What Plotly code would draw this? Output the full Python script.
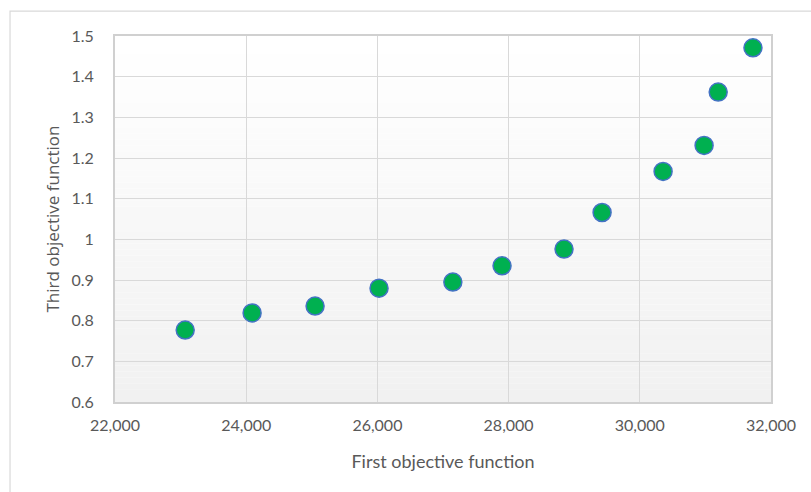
import plotly.graph_objects as go

# Pareto front points: first objective vs third objective
first_objective = [23070, 24090, 25050, 26025, 27150, 27900, 28845, 29425, 30355, 30980, 31195, 31725]
third_objective = [0.777, 0.819, 0.836, 0.880, 0.895, 0.935, 0.976, 1.066, 1.167, 1.231, 1.362, 1.471]

x_ticks = [22000, 24000, 26000, 28000, 30000, 32000]
x_tick_labels = ["22,000", "24,000", "26,000", "28,000", "30,000", "32,000"]
y_ticks = [0.6, 0.7, 0.8, 0.9, 1.0, 1.1, 1.2, 1.3, 1.4, 1.5]
y_tick_labels = ["0.6", "0.7", "0.8", "0.9", "1", "1.1", "1.2", "1.3", "1.4", "1.5"]

tick_font = dict(family="Lato, Carlito, Calibri, sans-serif", size=16, color="#595959")

fig = go.Figure()
fig.add_trace(go.Scatter(
    x=first_objective,
    y=third_objective,
    mode="markers",
    marker=dict(size=18, color="#00B050", line=dict(color="#4472C4", width=1.5)),
    hoverinfo="x+y",
    showlegend=False,
))

# Vertical gradient for the plot area: white at the top to light grey at the bottom
shapes = []
steps = 60
for i in range(steps):
    t = i / (steps - 1)
    v = round(241 + (255 - 241) * t)
    shapes.append(dict(
        type="rect", xref="x domain", yref="y domain",
        x0=0, x1=1, y0=i / steps, y1=(i + 1) / steps,
        fillcolor=f"rgb({v},{v},{v})", line=dict(width=0), layer="below",
    ))

# Outer chart frame
shapes.append(dict(
    type="rect", xref="paper", yref="paper",
    x0=-0.160, x1=1.3, y0=-0.4, y1=1.068,
    line=dict(color="#d9d9d9", width=1.2), fillcolor="rgba(0,0,0,0)", layer="below",
))

fig.update_layout(
    width=811, height=492,
    margin=dict(l=115, r=40, t=36, b=90),
    paper_bgcolor="white",
    plot_bgcolor="rgba(0,0,0,0)",
    shapes=shapes,
    xaxis=dict(
        range=[22000, 32000],
        tickvals=x_ticks, ticktext=x_tick_labels,
        tickfont=tick_font,
        showgrid=True, gridcolor="#d9d9d9", gridwidth=1.3,
        showline=True, linecolor="#d0d0d0", linewidth=2, mirror=True,
        zeroline=False, ticks="", ticklabelstandoff=8,
        title=dict(text="First objective function",
                   font=dict(family="Lato, Carlito, sans-serif", size=18, color="#595959"),
                   standoff=22),
    ),
    yaxis=dict(
        range=[0.6, 1.5],
        tickvals=y_ticks, ticktext=y_tick_labels,
        tickfont=tick_font,
        showgrid=True, gridcolor="#d9d9d9", gridwidth=1.3,
        showline=True, linecolor="#d0d0d0", linewidth=2, mirror=True,
        zeroline=False, ticks="", ticklabelstandoff=16,
        title=dict(text="Third objective function",
                   font=dict(family="Open Sans, sans-serif", size=17, color="#595959"),
                   standoff=8),
    ),
)

fig.write_html("out.html")
